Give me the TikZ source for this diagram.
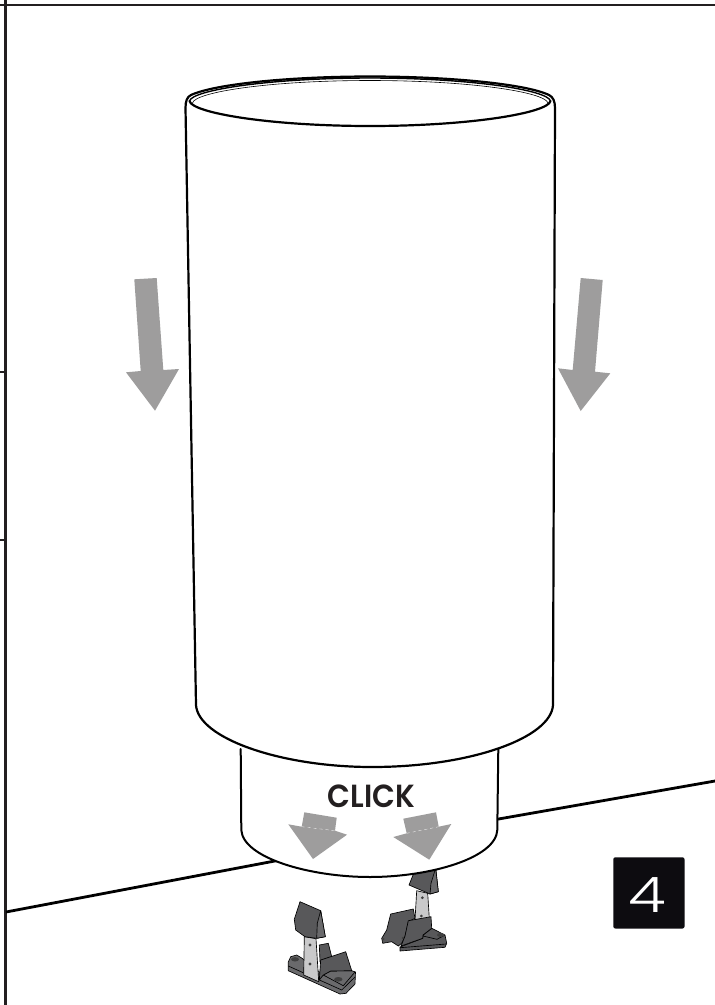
\documentclass[tikz,border=0pt]{standalone}
\usepackage{graphicx}
\usepackage{fontspec}
\setmainfont{Poppins}
\newfontfamily\clickfont{Poppins SemiBold}
\newfontfamily\numfont{Poppins Light}
\definecolor{arrowgrey}{HTML}{9E9D9D}
\definecolor{partgrey}{HTML}{6A6A6C}
\definecolor{partdark}{HTML}{58585A}
\definecolor{plategrey}{HTML}{C9C9CA}
\definecolor{tilebg}{HTML}{0D0C10}
\definecolor{clicktxt}{HTML}{231F20}
\tikzset{
 ink/.style={draw=black,line cap=round,line join=round},
 garrow/.style={fill=arrowgrey,draw=none},
 seam/.style={draw=white,line width=0.3pt,dashed},
 lightpart/.style={fill=partgrey,draw=black,line width=0.65pt,line join=round},
 darkpart/.style={fill=partdark,draw=black,line width=0.65pt,line join=round},
 platepart/.style={fill=plategrey,draw=black,line width=0.65pt,line join=round},
 hole/.style={fill=black!75,draw=none},
 rim/.style={draw=black,line width=0.65pt,line join=round},
}
\begin{document}
\begin{tikzpicture}[x=1pt,y=-1pt]
\useasboundingbox (0,0) rectangle (715,1005);
\fill[white] (0,0) rectangle (715,1005);
% frame
\draw[draw=clicktxt,line width=2.6pt] (0,5) -- (715,5);
\draw[draw=clicktxt,line width=2.6pt] (5.5,0) -- (5.5,1005);
\draw[draw=clicktxt,line width=2.4pt] (0,371.7) -- (5.5,371.7);
\draw[draw=clicktxt,line width=2.4pt] (0,540) -- (5.5,540);
% wall/floor
\draw[draw=black,line width=2.8pt] (6,912) -- (280,860);
\draw[draw=black,line width=2.8pt] (490,820.5) -- (715,781);
% right clip
\path[darkpart] (415,870) -- (435.7,868) -- (438.3,891.7) -- (430,894) -- (409,885) -- cycle;
\path[lightpart] (435.7,868) -- (431,883.3) -- (430,894) -- (438.3,891.7) -- cycle;
\path[platepart] (416.7,890.7) -- (427.7,893.3) -- (429.3,918.3) -- (415,920) -- cycle;
\fill[hole] (422.3,897.7) circle (1.5) (421.3,916) circle (1.5);
\path[darkpart] (390.7,914) -- (413.3,909) -- (415,918.3) -- (408.3,921.7) -- (405,936.7) -- (401.7,943.3) -- (398.3,946) -- (391.7,941.7) -- (382.7,943.3) -- (381.7,938.3) -- (386.7,930) -- cycle;
\fill[hole] (383.5,939) circle (1.2) (403,938) circle (1.3);
\path[darkpart] (400,947) -- (400,951) -- (445,947.3) -- (446.7,943.3) -- (445,935) -- (431.7,928.3) -- (423.3,935) -- (422.7,938.3) -- cycle;
\path[darkpart] (408.3,920.7) -- (431,916.7) -- (431.7,928.3) -- (423,935) -- (422.7,938.3) -- (401,946) -- (405,936) -- cycle;
\path[rim] (400,947.7) -- (446,944);
\path[rim] (423,936) -- (437,939.3) -- (445,935);
\fill[hole] (440.7,935) ellipse (3.8 and 2);
% left clip
\path[darkpart] (319.3,945) -- (328.3,943.3) -- (331.7,956.7) -- (320,961.7) -- cycle;
\path[lightpart] (290.7,956.7) -- (296.7,955) -- (301.7,958) -- (323.3,975) -- (330.7,971) -- (351.7,970.7) -- (355.5,972) -- (355,984) -- (346,993.3) -- (340,994) -- (288.3,970.7) -- (288.3,962) -- cycle;
\path[rim] (288.3,966) -- (341.7,990) -- (355,977);
\path[rim] (323.3,975) -- (343.3,985.7) -- (355,972);
\fill[hole] (295,959.3) ellipse (4 and 2.2) (338.3,979.3) ellipse (4.2 and 2.3);
\path[darkpart] (320.7,960) -- (345.7,951.7) -- (351.7,970.7) -- (330.7,971) -- (323.3,975) -- (319.3,980) -- cycle;
\path[platepart] (304.3,936.7) -- (316,938.7) -- (318.7,981.7) -- (303.7,975) -- cycle;
\fill[hole] (310,945) circle (1.6) (310,964) circle (1.6);
\path[darkpart] (300,901.7) -- (320.7,910.7) -- (325.3,936.7) -- (316.7,938.3) -- (305,936.7) -- (295.7,930) -- (294.3,919.3) -- cycle;
\path[lightpart] (320.7,910.7) -- (317.3,923.3) -- (316.7,938.3) -- (325.3,936.7) -- cycle;
% lower part
\draw[ink,line width=2pt,fill=white] (240.7,749) -- (241.3,830) .. controls (243,858) and (310,877) .. (370,877) .. controls (430,877) and (496,858) .. (497.3,830) -- (498.3,749);
% main cylinder
\draw[ink,line width=2.2pt,fill=white] (185.5,108)
 .. controls (185.5,101) and (187,97) .. (191,95)
 .. controls (215,84) and (290,76.5) .. (370,76.5)
 .. controls (450,76.5) and (526,84) .. (549,95)
 .. controls (553,97) and (555,101) .. (555,108)
 -- (553,705)
 .. controls (551,738) and (470,767) .. (372,767)
 .. controls (280,767) and (198,738) .. (196,705) -- cycle;
\draw[ink,line width=2.2pt] (189.5,101) .. controls (192,113) and (270,126) .. (370,126) .. controls (470,126) and (548,113) .. (550.5,101);
\draw[ink,line width=1.4pt] (189.5,101) .. controls (192,90) and (270,78) .. (370,78) .. controls (470,78) and (548,90) .. (550.5,101);
\draw[ink,line width=0.6pt] (192.5,103) .. controls (195,92) and (270,80.5) .. (370,80.5) .. controls (470,80.5) and (545,92) .. (548,103);
% big arrows
\fill[garrow] (134.3,279.3) -- (156.7,278) -- (163.3,370) -- (179,369) -- (155,410.7) -- (126,372.3) -- (140.7,371) -- cycle;
\fill[garrow] (580.7,278) -- (602.7,280) -- (595,371.7) -- (610.3,373.3) -- (580.7,411) -- (558,368.3) -- (572.7,370) -- cycle;
% click
\node[font=\clickfont\fontsize{32}{32}\selectfont,text=clicktxt,inner sep=0] (click) at (371.5,796.5) {\scalebox{.93}[1]{CLICK}};
\fill[garrow] (304.3,812.3) -- (336.7,817.7) -- (335,830.7) -- (347,834.7) -- (313,859) -- (288.3,824.3) -- (301.7,826.7) -- cycle;
\fill[garrow] (403.3,818.7) -- (436,812.3) -- (438.7,826.7) -- (451.3,824) -- (429.3,859.7) -- (393.3,837) -- (406.7,833.3) -- cycle;
\draw[seam] (301.7,826.7) -- (335,830.7);
\draw[seam] (406.7,833.3) -- (438.7,826.7);
% tile
\fill[tilebg,rounded corners=2pt] (613.3,857.3) rectangle (684.5,928.5);
\node[font=\numfont\fontsize{49}{49}\selectfont,text=white,inner sep=0] (stepnum) at (647,895) {\scalebox{1.25}[1]{4}};
\end{tikzpicture}
\end{document}
